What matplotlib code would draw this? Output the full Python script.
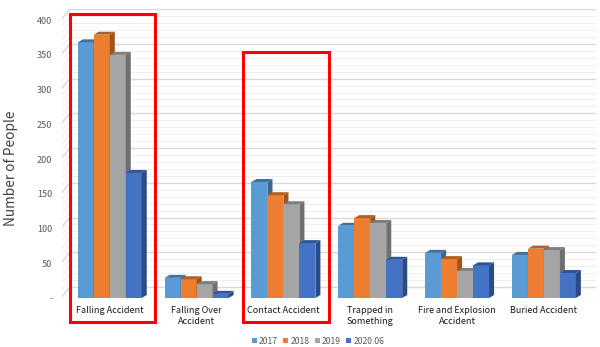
import matplotlib
matplotlib.use("Agg")
import matplotlib.pyplot as plt
from matplotlib.patches import Polygon, Rectangle, Patch
import numpy as np

plt.rcParams['font.family'] = ['Noto Sans CJK KR', 'DejaVu Sans']

categories = ["Falling Accident", "Falling Over\nAccident", "Contact Accident",
              "Trapped in\nSomething", "Fire and Explosion\nAccident", "Buried Accident"]
years = ["2017", "2018", "2019", "2020.06"]
v2017 = [368, 29, 167, 104, 65, 62]
v2018 = [379, 27, 148, 115, 56, 71]
v2019 = [350, 20, 135, 108, 39, 69]
v2020 = [180, 6, 79, 55, 47, 36]
series = [v2017, v2018, v2019, v2020]
highlight = [0, 2]   # categories boxed in red
box_top = [409, 354]

front = ["#5B9BD5", "#ED7D31", "#A5A5A5", "#4472C4"]
top_c = ["#41719C", "#B65E22", "#7F7F7F", "#2F5597"]
side_c = ["#3A6690", "#A1531C", "#6F6F6F", "#2A4C86"]

fig = plt.figure(figsize=(6, 3.47), dpi=100)
ax = fig.add_axes([62 / 600, 49 / 347, 534 / 600, 289 / 347])
ax.set_xlim(-0.55, 5.6)
ax.set_ylim(0, 416)
for s in ax.spines.values():
    s.set_visible(False)

# back wall / side wall grid (3D look)
wall = 15.8
wx0, wx1 = -0.46, 5.6
for v in range(0, 410, 10):
    major = v % 50 == 0
    col = "#D9D9D9" if major else "#EFEFEF"
    lw = 1.0 if major else 0.7
    ax.plot([wx0, wx1], [v + wall, v + wall], color=col, lw=lw, zorder=0)
    ax.plot([-0.55, wx0], [v + 2, v + wall], color=col, lw=lw, zorder=0)

w = 0.184
dx, dy = 0.058, 4.3
x = np.arange(len(categories))
z = 2
for i, vals in enumerate(series):
    xs = x - 2 * w + i * w
    for xi, v in zip(xs, vals):
        ax.add_patch(Rectangle((xi, 0), w, v, facecolor=front[i], edgecolor="none", zorder=z))
        ax.add_patch(Polygon([(xi, v), (xi + dx, v + dy), (xi + w + dx, v + dy), (xi + w, v)],
                             closed=True, facecolor=top_c[i], edgecolor="none", zorder=z))
        ax.add_patch(Polygon([(xi + w, 0), (xi + w + dx, dy), (xi + w + dx, v + dy), (xi + w, v)],
                             closed=True, facecolor=side_c[i], edgecolor="none", zorder=z))
        z += 1

for k, c in enumerate(highlight):
    ax.add_patch(Rectangle((c - 0.46, -34.5), 0.98, box_top[k] + 34.5, fill=False,
                           edgecolor="#FF0000", lw=2.2, clip_on=False, zorder=50))

yt = list(range(0, 401, 50))
ax.set_yticks(yt)
ax.set_yticklabels(["-"] + [str(t) for t in yt[1:]], fontsize=6.5, color="#595959")
ax.set_xticks(x)
ax.set_xticklabels(categories, fontsize=6.5, color="#1A1A1A", linespacing=1.25)
ax.tick_params(axis="both", length=0)
ax.tick_params(axis="x", pad=6)
ax.tick_params(axis="y", pad=7)

fig.text(11 / 600, 0.515, "Number of People", rotation=90, ha="center", va="center",
         fontsize=9.8, color="#404040")

handles = [Patch(facecolor=c, edgecolor="none") for c in front]
fig.legend(handles, years, loc="center", bbox_to_anchor=(318 / 600, 1 - 341 / 347), ncol=4,
           frameon=False, fontsize=6.2, handlelength=0.6, handleheight=0.6,
           columnspacing=0.6, handletextpad=0.25, labelcolor="#595959")

fig.savefig("out.png", dpi=100)
